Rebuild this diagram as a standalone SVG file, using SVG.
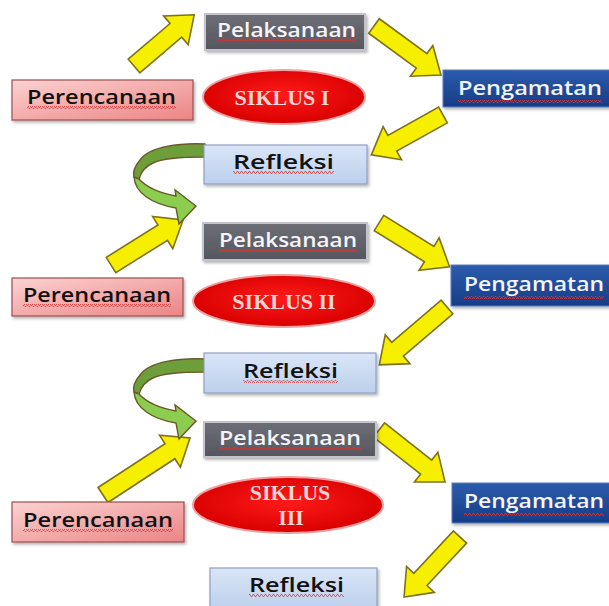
<svg xmlns="http://www.w3.org/2000/svg" width="609" height="606" viewBox="0 0 609 606">
<style>
.txt{font-family:"Open Sans","Liberation Sans",sans-serif;font-weight:600;font-size:20px;}
.dark{fill:#111;}
.light{fill:#f4f4fb;}
.sik{font-family:"Liberation Serif","Times New Roman",serif;font-weight:bold;font-size:22px;fill:#f8d4d4;text-anchor:middle;}
.pel{fill:url(#gGray);stroke:#c4c4cc;stroke-width:2;filter:url(#sh);}
.per{fill:url(#gPink);stroke:#9a5050;stroke-width:1.2;filter:url(#sh);}
.pen{fill:url(#gBlue);stroke:#5a7cc0;stroke-width:1;filter:url(#sh);}
.ref{fill:url(#gLb);stroke:#8ea0c0;stroke-width:1.2;filter:url(#sh);}
.ell{fill:url(#gRed);stroke:#f2a0a0;stroke-width:2;}
.ya{fill:#f6f000;stroke:#807018;stroke-width:1.6;stroke-linejoin:miter;}
.gdark{fill:#6e9e3a;stroke:#6a5a2a;stroke-width:1.4;}
.glight{fill:#8ccc4e;stroke:#6a5a2a;stroke-width:1.4;}
.sq{fill:url(#pSq);}
</style>
<defs>
<linearGradient id="gGray" x1="0" y1="0" x2="0" y2="1"><stop offset="0" stop-color="#6e6e76"/><stop offset="1" stop-color="#56565e"/></linearGradient>
<linearGradient id="gPink" x1="0" y1="0" x2="1" y2="1"><stop offset="0" stop-color="#fbd2d2"/><stop offset="1" stop-color="#ec8484"/></linearGradient>
<linearGradient id="gBlue" x1="0" y1="0" x2="0" y2="1"><stop offset="0" stop-color="#2c5cac"/><stop offset="1" stop-color="#173c86"/></linearGradient>
<linearGradient id="gLb" x1="0" y1="0" x2="0" y2="1"><stop offset="0" stop-color="#dae6f7"/><stop offset="1" stop-color="#bccfec"/></linearGradient>
<radialGradient id="gRed" cx="0.5" cy="0.45" r="0.55"><stop offset="0" stop-color="#ff1a1a"/><stop offset="1" stop-color="#d80000"/></radialGradient>
<filter id="sh" x="-10%" y="-20%" width="125%" height="150%"><feDropShadow dx="1.5" dy="2" stdDeviation="1.5" flood-color="#000" flood-opacity="0.3"/></filter>
<pattern id="pSq" width="4" height="3" patternUnits="userSpaceOnUse"><path d="M0,2.5 L1,0.5 L2,0.5 L3,2.5 L4,2.5" fill="none" stroke="#d03a3a" stroke-width="0.8"/></pattern>
<g id="green">
<path class="gdark" d="M205,144 C180,143 150,146 140,160 C134,167 133,173 134,177 L139,179 C141,172 146,166 153,163 C163,158 182,157 205,157 Z"/>
<path class="glight" d="M134,177 C135,193 152,204 176,208 L179,224 L196,206 L175,190 L176,196 C160,193 147,188 139,179 Z"/>
</g>
</defs>
<rect width="609" height="606" fill="#ffffff"/>

<g id="connectors">
<path class="ya" transform="translate(134,66) rotate(-40.4)" d="M0,-9 L55,-9 L55,-19 L79,0 L55,19 L55,9 L0,9 Z"/>
<path class="ya" transform="translate(374,26) rotate(36.2)" d="M0,-9 L59,-9 L59,-19 L83,0 L59,19 L59,9 L0,9 Z"/>
<path class="ya" transform="translate(443,115) rotate(150.9)" d="M0,-9 L58,-9 L58,-19 L82,0 L58,19 L58,9 L0,9 Z"/>
<path class="ya" transform="translate(111,265) rotate(-32)" d="M0,-9 L61,-9 L61,-19 L85,0 L61,19 L61,9 L0,9 Z"/>
<path class="ya" transform="translate(379,223) rotate(31.8)" d="M0,-9 L59,-9 L59,-19 L83,0 L59,19 L59,9 L0,9 Z"/>
<path class="ya" transform="translate(447,307) rotate(139.5)" d="M0,-9 L65,-9 L65,-19 L89,0 L65,19 L65,9 L0,9 Z"/>
<path class="ya" transform="translate(103,495) rotate(-33.2)" d="M0,-9 L80,-9 L80,-19 L104,0 L80,19 L80,9 L0,9 Z"/>
<path class="ya" transform="translate(379,430) rotate(38.2)" d="M0,-9 L60,-9 L60,-19 L84,0 L60,19 L60,9 L0,9 Z"/>
<path class="ya" transform="translate(460,537) rotate(133)" d="M0,-9 L58,-9 L58,-19 L82,0 L58,19 L58,9 L0,9 Z"/>
<use href="#green"/>
<use href="#green" transform="translate(0,215)"/>
</g>

<!-- Cycle 1 -->
<g id="pelaksanaan1">
<rect class="pel" x="205" y="14" width="160" height="36"/>
<text class="txt light" x="217" y="37" textLength="139" lengthAdjust="spacingAndGlyphs">Pelaksanaan</text>
<rect class="sq" x="217" y="38" width="139" height="3"/>
</g>
<g id="perencanaan1">
<rect class="per" x="12" y="80" width="181" height="40"/>
<text class="txt dark" x="27" y="104" textLength="149" lengthAdjust="spacingAndGlyphs">Perencanaan</text>
<rect class="sq" x="27" y="106" width="149" height="3"/>
</g>
<g id="siklus1">
<ellipse class="ell" cx="284" cy="97" rx="81" ry="27"/>
<text class="sik" x="282" y="105" font-size="23">SIKLUS I</text>
</g>
<g id="pengamatan1">
<rect class="pen" x="443" y="70" width="170" height="37"/>
<text class="txt light" x="458" y="95" textLength="144" lengthAdjust="spacingAndGlyphs">Pengamatan</text>
<rect class="sq" x="458" y="100" width="144" height="3"/>
</g>
<g id="refleksi1">
<rect class="ref" x="204" y="145" width="163" height="39"/>
<text class="txt dark" x="233" y="169" textLength="101" lengthAdjust="spacingAndGlyphs">Refleksi</text>
<rect class="sq" x="233" y="171" width="101" height="3"/>
</g>

<!-- Cycle 2 -->
<g id="pelaksanaan2">
<rect class="pel" x="203" y="223" width="164" height="37"/>
<text class="txt light" x="219" y="247" textLength="138" lengthAdjust="spacingAndGlyphs">Pelaksanaan</text>
<rect class="sq" x="219" y="249" width="138" height="3"/>
</g>
<g id="perencanaan2">
<rect class="per" x="12" y="278" width="171" height="38"/>
<text class="txt dark" x="23" y="302" textLength="148" lengthAdjust="spacingAndGlyphs">Perencanaan</text>
<rect class="sq" x="23" y="304" width="148" height="3"/>
</g>
<g id="siklus2">
<ellipse class="ell" cx="284" cy="301" rx="91" ry="26"/>
<text class="sik" x="284" y="309">SIKLUS II</text>
</g>
<g id="pengamatan2">
<rect class="pen" x="451" y="265" width="162" height="41"/>
<text class="txt light" x="464" y="291" textLength="140" lengthAdjust="spacingAndGlyphs">Pengamatan</text>
<rect class="sq" x="464" y="296" width="140" height="3"/>
</g>
<g id="refleksi2">
<rect class="ref" x="204" y="353" width="172" height="40"/>
<text class="txt dark" x="243" y="378" textLength="95" lengthAdjust="spacingAndGlyphs">Refleksi</text>
<rect class="sq" x="243" y="380" width="95" height="3"/>
</g>

<!-- Cycle 3 -->
<g id="pelaksanaan3">
<rect class="pel" x="204" y="422" width="172" height="35"/>
<text class="txt light" x="219" y="445" textLength="142" lengthAdjust="spacingAndGlyphs">Pelaksanaan</text>
<rect class="sq" x="219" y="447" width="142" height="3"/>
</g>
<g id="perencanaan3">
<rect class="per" x="12" y="502" width="172" height="40"/>
<text class="txt dark" x="23" y="527" textLength="150" lengthAdjust="spacingAndGlyphs">Perencanaan</text>
<rect class="sq" x="23" y="529" width="150" height="3"/>
</g>
<g id="siklus3">
<ellipse class="ell" cx="288" cy="505" rx="95" ry="28"/>
<text class="sik" x="290" y="500" font-size="21">SIKLUS</text>
<text class="sik" x="291" y="525" font-size="21">III</text>
</g>
<g id="pengamatan3">
<rect class="pen" x="452" y="483" width="161" height="40"/>
<text class="txt light" x="464" y="508" textLength="140" lengthAdjust="spacingAndGlyphs">Pengamatan</text>
<rect class="sq" x="464" y="513" width="140" height="3"/>
</g>
<g id="refleksi3">
<rect class="ref" x="210" y="568" width="167" height="42"/>
<text class="txt dark" x="249" y="592" textLength="95" lengthAdjust="spacingAndGlyphs">Refleksi</text>
<rect class="sq" x="249" y="594" width="95" height="3"/>
</g>
</svg>
